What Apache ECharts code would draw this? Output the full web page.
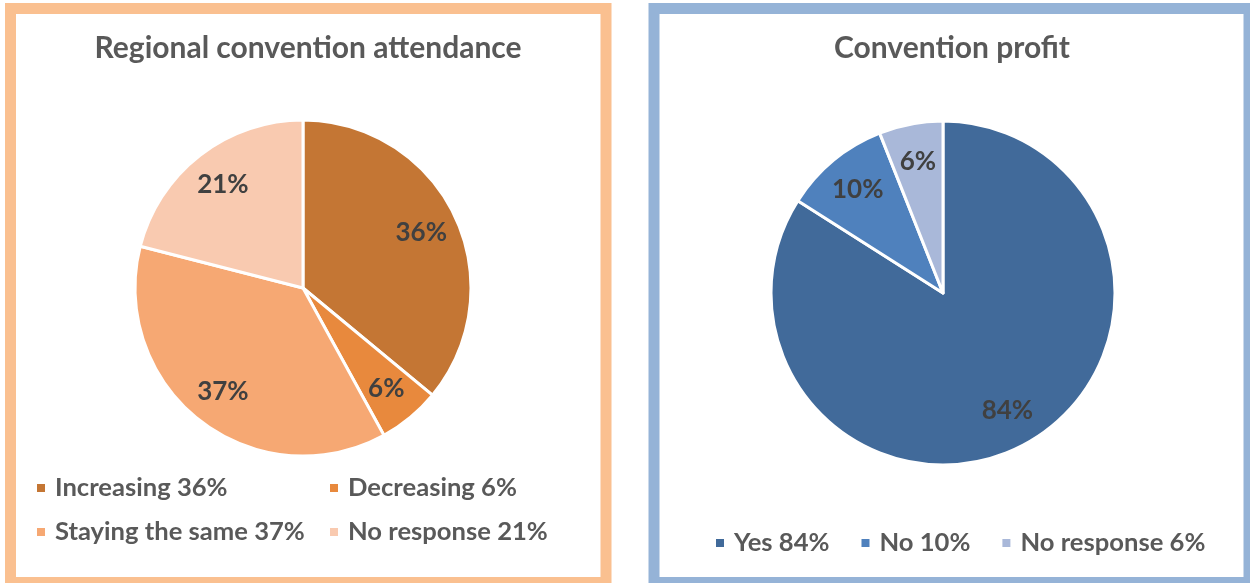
<!DOCTYPE html>
<html><head><meta charset="utf-8">
<script src="https://cdn.jsdelivr.net/npm/echarts@6/dist/echarts.min.js"></script>
<style>html,body{margin:0;padding:0;background:#fff;}#c{width:1250px;height:583px;}</style>
</head><body><div id="c"></div>
<script>
// ---- data ----
const attendanceTitle = 'Regional convention attendance';
const attendanceCategories = ['Increasing', 'Decreasing', 'Staying the same', 'No response'];
const attendanceValues = [36, 6, 37, 21];
const attendanceColors = ['#C47634', '#E8893D', '#F6A873', '#F9CAB0'];

const profitTitle = 'Convention profit';
const profitCategories = ['Yes', 'No', 'No response'];
const profitValues = [84, 10, 6];
const profitColors = ['#416A9A', '#4F81BD', '#A9B8D9'];

// ---- styling ----
const FONT = 'Lato';
const LABEL_SIZE = 26, LEGEND_SIZE = 25.6, TITLE_SIZE = 30;

const chart = echarts.init(document.getElementById('c'), null, {renderer: 'canvas'});

function pieData(cats, vals, cols) {
  return cats.map((n, i) => ({name: n, value: vals[i], itemStyle: {color: cols[i]}}));
}
function pieSeries(cats, vals, cols, center, r) {
  return [
    {
      type: 'pie', center: center, radius: [0, r], startAngle: 90, clockwise: true,
      silent: true, animation: false,
      data: pieData(cats, vals, cols),
      itemStyle: {borderColor: '#fff', borderWidth: 3},
      label: {show: false}, labelLine: {show: false}
    },
    {
      type: 'pie', center: center, radius: [r * 0.52, r], startAngle: 90, clockwise: true,
      silent: true, animation: false, legendHoverLink: false,
      data: cats.map((n, i) => ({name: n, value: vals[i], itemStyle: {color: 'rgba(0,0,0,0)'}})),
      itemStyle: {borderWidth: 0},
      label: {show: true, position: 'inside', formatter: p => p.value + '%',
        color: '#404040', fontFamily: FONT, fontWeight: 'bold', fontSize: LABEL_SIZE},
      labelLine: {show: false}
    }
  ];
}
function itemLegend(name, value, color, left, top) {
  return {
    show: true, left: left, top: top, padding: 0, orient: 'horizontal',
    itemWidth: 10, itemHeight: 10, icon: 'rect', selectedMode: false,
    data: [{name: name, itemStyle: {color: color}}],
    formatter: () => name + ' ' + value + '%',
    textStyle: {color: '#595959', fontFamily: FONT, fontWeight: 'bold', fontSize: LEGEND_SIZE, padding: [0, 0, 0, 4]}
  };
}

const leftLegendPos = [[35, 475], [328, 475], [35, 519], [328, 519]];
const legends = attendanceCategories.map((n, i) =>
  itemLegend(n, attendanceValues[i], attendanceColors[i], leftLegendPos[i][0], leftLegendPos[i][1]));
legends.push({
  show: true, left: 714, top: 530, padding: 0, orient: 'horizontal',
  itemWidth: 10, itemHeight: 10, icon: 'rect', itemGap: 30, selectedMode: false,
  data: profitCategories.map((n, i) => ({name: n, itemStyle: {color: profitColors[i]}})),
  formatter: n => n + ' ' + profitValues[profitCategories.indexOf(n)] + '%',
  textStyle: {color: '#595959', fontFamily: FONT, fontWeight: 'bold', fontSize: LEGEND_SIZE, padding: [0, 0, 0, 4]}
});

chart.setOption({
  animation: false,
  backgroundColor: '#fff',
  graphic: [
    {type: 'rect', z: -1, shape: {x: 10.5, y: 8.5, width: 595.5, height: 574},
      style: {fill: '#fff', stroke: '#FAC090', lineWidth: 11}},
    {type: 'rect', z: -1, shape: {x: 654, y: 8.5, width: 595, height: 574},
      style: {fill: '#fff', stroke: '#95B3D7', lineWidth: 11}},
    {type: 'text', x: 308, y: 48, style: {text: attendanceTitle, align: 'center', verticalAlign: 'middle',
      fill: '#595959', font: 'bold ' + TITLE_SIZE + 'px ' + FONT}},
    {type: 'text', x: 952, y: 48, style: {text: profitTitle, align: 'center', verticalAlign: 'middle',
      fill: '#595959', font: 'bold ' + TITLE_SIZE + 'px ' + FONT}}
  ],
  legend: legends,
  series: [
    ...pieSeries(attendanceCategories, attendanceValues, attendanceColors, [303, 288], 168),
    ...pieSeries(profitCategories, profitValues, profitColors, [943, 293], 172)
  ]
});
</script>
</body></html>
